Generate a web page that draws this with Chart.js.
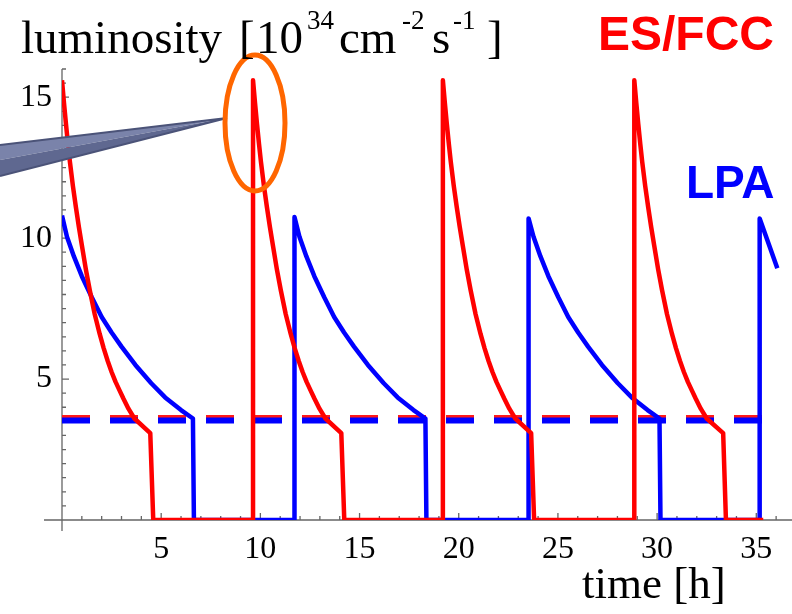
<!DOCTYPE html>
<html>
<head>
<meta charset="utf-8">
<script src="https://cdn.jsdelivr.net/npm/chart.js@4.4.1/dist/chart.umd.min.js"></script>
<style>
  html, body { margin: 0; padding: 0; background: #fff; }
  #wrap { position: relative; width: 792px; height: 614px; }
</style>
</head>
<body>
<div id="wrap"><canvas id="lumiChart" width="792" height="614"></canvas></div>
<script>
// ES/FCC (red curve): time [h] and luminosity [10^34 cm^-2 s^-1]
const esTime = [
  0, 0.1, 0.2, 0.3, 0.4, 0.55, 0.7, 0.85, 1.0, 1.2, 1.4, 1.65, 1.9, 2.1, 2.3, 2.5, 2.7, 2.9, 3.1, 3.35, 3.65, 4.45, 4.6,
  9.63, 9.63, 9.73, 9.83, 9.93, 10.03, 10.18, 10.33, 10.48, 10.63, 10.83, 11.03, 11.28, 11.53, 11.73, 11.93, 12.13, 12.33, 12.53, 12.73, 12.98, 13.28, 14.08, 14.23,
  19.2, 19.2, 19.3, 19.4, 19.5, 19.6, 19.75, 19.9, 20.05, 20.2, 20.4, 20.6, 20.85, 21.1, 21.3, 21.5, 21.7, 21.9, 22.1, 22.3, 22.55, 22.85, 23.65, 23.8,
  28.85, 28.85, 28.95, 29.05, 29.15, 29.25, 29.4, 29.55, 29.7, 29.85, 30.05, 30.25, 30.5, 30.75, 30.95, 31.15, 31.35, 31.55, 31.75, 31.95, 32.2, 32.5, 33.33, 33.47,
  35.35
];
const esLumi = [
  15.6, 14.8, 14.05, 13.35, 12.7, 11.85, 11.1, 10.4, 9.75, 8.9, 8.15, 7.3, 6.6, 6.1, 5.65, 5.25, 4.9, 4.6, 4.3, 3.95, 3.6, 3.08, 0,
  0, 15.6, 14.8, 14.05, 13.35, 12.7, 11.85, 11.1, 10.4, 9.75, 8.9, 8.15, 7.3, 6.6, 6.1, 5.65, 5.25, 4.9, 4.6, 4.3, 3.95, 3.6, 3.08, 0,
  0, 15.6, 14.8, 14.05, 13.35, 12.7, 11.85, 11.1, 10.4, 9.75, 8.9, 8.15, 7.3, 6.6, 6.1, 5.65, 5.25, 4.9, 4.6, 4.3, 3.95, 3.6, 3.08, 0,
  0, 15.6, 14.8, 14.05, 13.35, 12.7, 11.85, 11.1, 10.4, 9.75, 8.9, 8.15, 7.3, 6.6, 6.1, 5.65, 5.25, 4.9, 4.6, 4.3, 3.95, 3.6, 3.08, 0,
  0
];

// LPA (blue curve)
const lpaTime = [
  0, 0.25, 0.6, 1.0, 1.5, 2.0, 2.5, 3.0, 3.7, 4.5, 5.2, 6.0, 6.6, 6.65,
  11.72, 11.72, 11.97, 12.32, 12.72, 13.22, 13.72, 14.22, 14.72, 15.42, 16.22, 16.92, 17.72, 18.32, 18.37,
  23.52, 23.52, 23.77, 24.12, 24.52, 25.02, 25.52, 26.02, 26.52, 27.22, 28.02, 28.72, 29.52, 30.12, 30.17,
  35.17, 35.17, 36.06
];
const lpaLumi = [
  10.8, 10.05, 9.35, 8.65, 7.9, 7.2, 6.65, 6.15, 5.5, 4.85, 4.35, 3.9, 3.6, 0,
  0, 10.75, 10.05, 9.35, 8.65, 7.9, 7.2, 6.65, 6.15, 5.5, 4.85, 4.35, 3.9, 3.6, 0,
  0, 10.7, 10.05, 9.35, 8.65, 7.9, 7.2, 6.65, 6.15, 5.5, 4.85, 4.35, 3.9, 3.6, 0,
  0, 10.7, 8.93
];

// Average luminosity (dashed lines)
const avgTime = [0, 35.35];
const esAvg = [3.62, 3.62];
const lpaAvg = [3.53, 3.53];

// Axis tick labels
const xTickLabels = [5, 10, 15, 20, 25, 30, 35];
const yTickLabels = [5, 10, 15];

function toPoints(xs, ys) {
  return xs.map((t, i) => ({ x: t, y: ys[i] }));
}

// Mathematica-style axes through the origin, ticks pointing inwards
const axesPlugin = {
  id: 'axes',
  beforeDatasetsDraw(chart) {
    const { ctx, chartArea, scales: { x, y } } = chart;
    const x0 = x.getPixelForValue(0);
    const y0 = y.getPixelForValue(0);
    ctx.save();
    ctx.strokeStyle = '#666';
    ctx.lineWidth = 1.3;
    ctx.beginPath();
    ctx.moveTo(x0 - 18, y0);
    ctx.lineTo(chartArea.right, y0);
    ctx.moveTo(x0, chartArea.top);
    ctx.lineTo(x0, y0 + 11);
    for (let v = 1; v <= 36; v++) {
      const px = x.getPixelForValue(v);
      const len = v % 5 === 0 ? 7 : 4;
      ctx.moveTo(px, y0);
      ctx.lineTo(px, y0 - len);
    }
    for (let v = 0.5; v <= 16; v += 0.5) {
      const py = y.getPixelForValue(v);
      const len = v % 5 === 0 ? 7 : 4;
      ctx.moveTo(x0, py);
      ctx.lineTo(x0 + len, py);
    }
    ctx.stroke();
    ctx.restore();
  }
};

// Callout and orange ellipse over the second peak
const notePlugin = {
  id: 'note',
  afterDatasetsDraw(chart) {
    const { ctx } = chart;
    ctx.save();
    // callout wedge
    ctx.beginPath();
    ctx.moveTo(0, 145);
    ctx.lineTo(227, 118);
    ctx.lineTo(0, 160);
    ctx.closePath();
    ctx.fillStyle = '#7a83aa';
    ctx.fill();
    ctx.beginPath();
    ctx.moveTo(0, 160);
    ctx.lineTo(227, 118);
    ctx.lineTo(0, 176);
    ctx.closePath();
    ctx.fillStyle = '#5f6890';
    ctx.fill();
    ctx.beginPath();
    ctx.moveTo(0, 145);
    ctx.lineTo(227, 118);
    ctx.lineTo(0, 176);
    ctx.strokeStyle = '#4b5378';
    ctx.lineWidth = 2;
    ctx.stroke();
    // ellipse
    ctx.beginPath();
    ctx.ellipse(255, 123, 30, 68, 0, 0, Math.PI * 2);
    ctx.strokeStyle = '#ff6600';
    ctx.lineWidth = 5;
    ctx.stroke();
    ctx.restore();
  }
};

// Axis titles and series labels
const labelsPlugin = {
  id: 'labels',
  afterDraw(chart) {
    const { ctx } = chart;
    ctx.save();
    ctx.textBaseline = 'alphabetic';
    ctx.textAlign = 'left';
    ctx.fillStyle = '#000';
    const main = '47px "Liberation Serif", serif';
    const sup = '27px "Liberation Serif", serif';
    ctx.font = main;
    ctx.fillText('luminosity', 21, 53);
    ctx.fillText('[', 239, 53);
    ctx.fillText('10', 256, 53);
    ctx.fillText('cm', 339, 53);
    ctx.fillText('s', 432, 53);
    ctx.fillText(']', 487, 53);
    ctx.font = sup;
    ctx.fillText('34', 307, 29);
    ctx.fillText('-2', 402, 29);
    ctx.fillText('-1', 453, 29);

    ctx.font = '45px "Liberation Serif", serif';
    ctx.fillText('time [h]', 582, 598);

    ctx.font = 'bold 48px "Liberation Sans", sans-serif';
    ctx.fillStyle = '#ff0000';
    ctx.fillText('ES/FCC', 598, 50);
    ctx.font = 'bold 46px "Liberation Sans", sans-serif';
    ctx.fillStyle = '#0000ff';
    ctx.fillText('LPA', 686, 198);
    ctx.restore();
  }
};

const tickFont = { family: 'Liberation Serif', size: 32 };

new Chart(document.getElementById('lumiChart').getContext('2d'), {
  type: 'line',
  data: {
    datasets: [
      {
        label: 'ES/FCC',
        data: toPoints(esTime, esLumi),
        borderColor: '#ff0000',
        borderWidth: 4.5,
        pointRadius: 0,
        tension: 0,
        borderJoinStyle: 'round',
        order: 0
      },
      {
        label: 'LPA',
        data: toPoints(lpaTime, lpaLumi),
        borderColor: '#0000ff',
        borderWidth: 4.5,
        pointRadius: 0,
        tension: 0,
        borderJoinStyle: 'round',
        order: 1
      },
      {
        label: 'LPA average',
        data: toPoints(avgTime, lpaAvg),
        borderColor: '#0000ff',
        borderWidth: 6,
        borderDash: [28, 20],
        pointRadius: 0,
        order: 2
      },
      {
        label: 'ES/FCC average',
        data: toPoints(avgTime, esAvg),
        borderColor: '#ff1a1a',
        borderWidth: 6,
        borderDash: [28, 20],
        pointRadius: 0,
        order: 3
      }
    ]
  },
  options: {
    responsive: false,
    animation: false,
    devicePixelRatio: 1,
    layout: { padding: { top: 69, left: 0, right: 0, bottom: 0 } },
    plugins: {
      legend: { display: false },
      tooltip: { enabled: false },
      title: { display: false }
    },
    scales: {
      x: {
        type: 'linear',
        min: 0,
        max: 36.8,
        afterBuildTicks: s => { s.ticks = xTickLabels.map(v => ({ value: v })); },
        afterFit: s => { s.height = 94; },
        grid: { display: false, drawTicks: false },
        border: { display: false },
        ticks: { font: tickFont, color: '#000', padding: 10, maxRotation: 0, autoSkip: false }
      },
      y: {
        type: 'linear',
        min: 0,
        max: 16,
        afterBuildTicks: s => { s.ticks = yTickLabels.map(v => ({ value: v })); },
        afterFit: s => { s.width = 62; },
        grid: { display: false, drawTicks: false },
        border: { display: false },
        ticks: { font: tickFont, color: '#000', padding: 10, autoSkip: false }
      }
    }
  },
  plugins: [axesPlugin, notePlugin, labelsPlugin]
});
</script>
</body>
</html>
